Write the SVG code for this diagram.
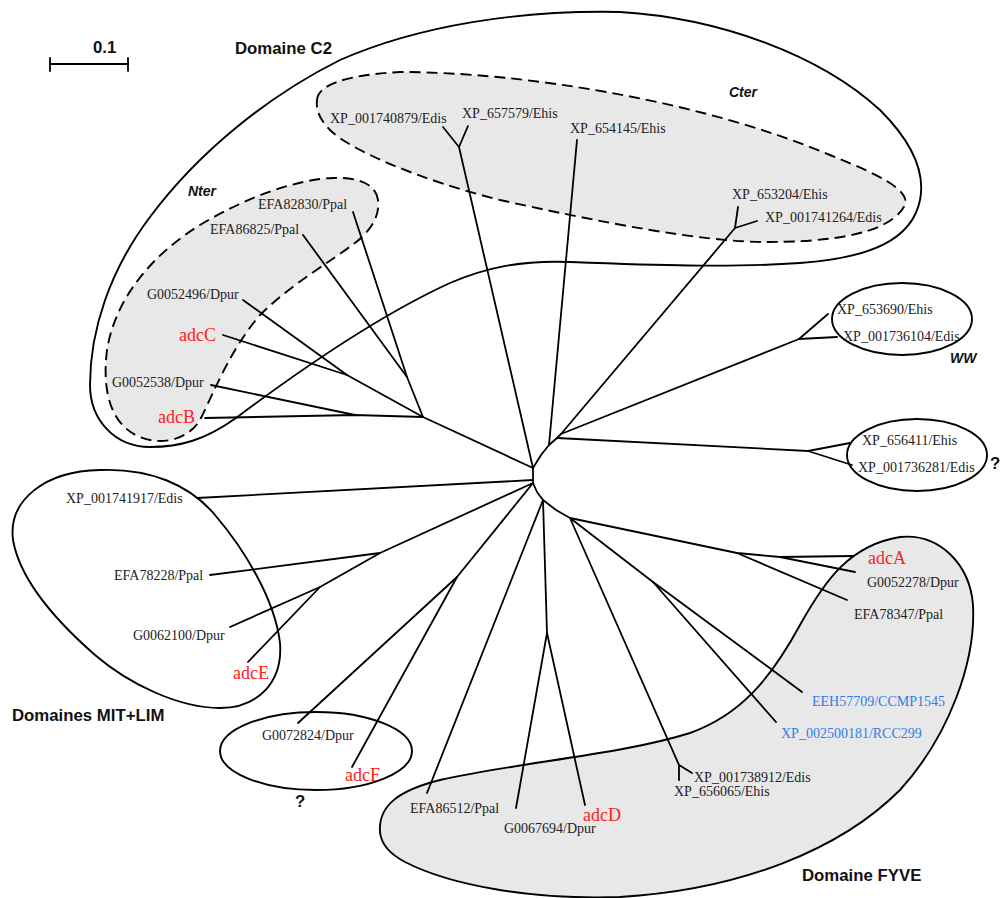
<svg xmlns="http://www.w3.org/2000/svg" width="1002" height="898" viewBox="0 0 1002 898">
<style>
.bg{fill:#fff}
.solid{fill:none;stroke:#000;stroke-width:1.9}
.dash{fill:#e8e8e8;stroke:#000;stroke-width:1.9;stroke-dasharray:11 6}
.gray{fill:#e8e8e8;stroke:#000;stroke-width:1.9}
.br{fill:none;stroke:#000;stroke-width:1.8;stroke-linecap:round;stroke-linejoin:round}
.lb{font-family:"Liberation Serif","Times New Roman",serif;font-size:14px;fill:#222}
.red{font-family:"Liberation Serif","Times New Roman",serif;font-size:18px;fill:#ff2020}
.blue{font-family:"Liberation Serif","Times New Roman",serif;font-size:14px;fill:#2f7de6}
.ttl{font-family:"Liberation Sans",Arial,sans-serif;font-size:16.8px;font-weight:bold;fill:#111}
.sub{font-family:"Liberation Sans",Arial,sans-serif;font-size:14px;font-weight:bold;font-style:italic;fill:#111}
</style>
<rect class="bg" x="0" y="0" width="1002" height="898"/>

<g id="regions">
  <path id="fyve" class="gray" d="M380,832 C378,805 400,790 440,780 C520,762 620,755 690,733 C740,715 770,680 800,625 C825,580 850,545 900,537 C940,533 970,565 973,605 C976,660 950,735 900,790 C840,850 740,890 620,897 C530,900 450,885 405,862 C388,853 381,843 380,832 Z"/>
  <path id="c2" class="solid" d="M150,447 C115,447 90,420 90,385 C90,330 110,270 150,217 C200,150 270,95 340,60 C420,25 520,10 620,12 C720,18 820,55 880,110 C915,145 925,175 920,200 C912,240 870,258 800,263 C730,268 650,265 570,262 C520,260 485,268 450,283 C380,315 300,370 236,418 C205,440 180,447 150,447 Z"/>
  <path id="nter" class="dash" d="M378,200 C376,185 360,177 333,178 C300,179 250,195 200,225 C150,256 115,300 107,350 C102,390 110,425 140,437 C165,447 190,437 200,420 C215,390 230,350 260,315 C290,285 330,262 355,243 C372,230 380,215 378,200 Z"/>
  <path id="cter" class="dash" d="M317,100 C318,85 345,75 400,72 C520,72 700,100 830,155 C880,175 910,190 905,205 C895,225 860,242 767,242 C700,242 600,222 500,200 C420,180 350,150 330,130 C318,118 316,108 317,100 Z"/>
  <ellipse id="ww" class="solid" cx="902" cy="319" rx="70" ry="36"/>
  <ellipse id="q656" class="solid" cx="917" cy="455" rx="70" ry="36"/>
  <path id="mitlim" class="solid" d="M100,470 C150,468 190,485 215,515 C245,550 275,600 280,643 C283,682 258,708 220,708 C180,708 130,685 95,655 C55,620 20,580 13,540 C8,500 45,471 100,470 Z"/>
  <ellipse id="qg" class="solid" cx="316" cy="751" rx="96" ry="39"/>
</g>

<g id="connectors" class="br">
  <polyline points="561,434 557,438 549,445 541,455 533,468 533,476 533,483 537,492 543,500 556,510 570,518"/>
  <polyline points="533,468 423,417"/>
  <polyline points="423,417 407,377 353,212"/>
  <polyline points="407,377 303,235"/>
  <polyline points="423,417 347,375 243,300"/>
  <polyline points="347,375 223,335"/>
  <polyline points="423,417 355,415 205,418"/>
  <polyline points="355,415 211,385"/>
  <polyline points="533,468 459,147 443,127"/>
  <polyline points="459,147 468,126"/>
  <polyline points="549,445 577,140"/>
  <polyline points="561,434 735,228 738,207"/>
  <polyline points="735,228 757,221"/>
  <polyline points="561,434 799,339 828,314"/>
  <polyline points="799,339 837,337"/>
  <polyline points="557,438 808,451 850,443"/>
  <polyline points="808,451 852,465"/>
  <polyline points="533,480 197,498"/>
  <polyline points="533,483 380,553 210,575"/>
  <polyline points="380,553 320,587 230,627"/>
  <polyline points="320,587 248,662"/>
  <polyline points="533,483 457,577 298,723"/>
  <polyline points="457,577 352,767"/>
  <polyline points="543,500 427,793"/>
  <polyline points="543,500 547,633 516,808"/>
  <polyline points="547,633 585,805"/>
  <polyline points="570,518 679,765 679,780"/>
  <polyline points="679,765 692,773"/>
  <polyline points="570,518 653,582 802,692"/>
  <polyline points="653,582 776,722"/>
  <polyline points="570,518 737,553 780,557 855,572"/>
  <polyline points="780,557 853,556"/>
  <polyline points="737,553 847,600"/>
</g>

<g id="scalebar" class="br">
  <line x1="50" y1="64" x2="128" y2="64"/>
  <line x1="50" y1="58" x2="50" y2="71"/>
  <line x1="128" y1="58" x2="128" y2="71"/>
</g>
<text class="ttl" x="93" y="53">0.1</text>

<g id="titles">
  <text class="ttl" x="235" y="54">Domaine C2</text>
  <text class="sub" x="188" y="196">Nter</text>
  <text class="sub" x="729" y="97">Cter</text>
  <text class="sub" x="950" y="363">WW</text>
  <text class="ttl" x="990" y="469">?</text>
  <text class="ttl" x="12" y="721">Domaines MIT+LIM</text>
  <text class="ttl" x="295" y="807">?</text>
  <text class="ttl" x="802" y="881">Domaine FYVE</text>
</g>

<g id="n-XP_001740879"><text class="lb" x="330" y="123">XP_001740879/Edis</text></g>
<g id="n-XP_657579"><text class="lb" x="462" y="118">XP_657579/Ehis</text></g>
<g id="n-XP_654145"><text class="lb" x="570" y="133">XP_654145/Ehis</text></g>
<g id="n-XP_653204"><text class="lb" x="732" y="199">XP_653204/Ehis</text></g>
<g id="n-XP_001741264"><text class="lb" x="765" y="222">XP_001741264/Edis</text></g>
<g id="n-EFA82830"><text class="lb" x="258" y="209">EFA82830/Ppal</text></g>
<g id="n-EFA86825"><text class="lb" x="210" y="234">EFA86825/Ppal</text></g>
<g id="n-G0052496"><text class="lb" x="147" y="299">G0052496/Dpur</text></g>
<g id="n-adcC"><text class="red" x="179" y="341">adcC</text></g>
<g id="n-G0052538"><text class="lb" x="112" y="387">G0052538/Dpur</text></g>
<g id="n-adcB"><text class="red" x="158" y="423">adcB</text></g>
<g id="n-XP_653690"><text class="lb" x="837" y="314">XP_653690/Ehis</text></g>
<g id="n-XP_001736104"><text class="lb" x="843" y="341">XP_001736104/Edis</text></g>
<g id="n-XP_656411"><text class="lb" x="862" y="445">XP_656411/Ehis</text></g>
<g id="n-XP_001736281"><text class="lb" x="858" y="472">XP_001736281/Edis</text></g>
<g id="n-XP_001741917"><text class="lb" x="66" y="503">XP_001741917/Edis</text></g>
<g id="n-EFA78228"><text class="lb" x="114" y="580">EFA78228/Ppal</text></g>
<g id="n-G0062100"><text class="lb" x="133" y="640">G0062100/Dpur</text></g>
<g id="n-adcE"><text class="red" x="233" y="679">adcE</text></g>
<g id="n-G0072824"><text class="lb" x="262" y="740">G0072824/Dpur</text></g>
<g id="n-adcF"><text class="red" x="345" y="781">adcF</text></g>
<g id="n-EFA86512"><text class="lb" x="410" y="813">EFA86512/Ppal</text></g>
<g id="n-G0067694"><text class="lb" x="504" y="833">G0067694/Dpur</text></g>
<g id="n-adcD"><text class="red" x="583" y="821">adcD</text></g>
<g id="n-XP_001738912"><text class="lb" x="694" y="782">XP_001738912/Edis</text></g>
<g id="n-XP_656065"><text class="lb" x="674" y="796">XP_656065/Ehis</text></g>
<g id="n-EEH57709"><text class="blue" x="812" y="706">EEH57709/CCMP1545</text></g>
<g id="n-XP_002500181"><text class="blue" x="781" y="738">XP_002500181/RCC299</text></g>
<g id="n-adcA"><text class="red" x="868" y="564">adcA</text></g>
<g id="n-G0052278"><text class="lb" x="867" y="587">G0052278/Dpur</text></g>
<g id="n-EFA78347"><text class="lb" x="854" y="619">EFA78347/Ppal</text></g>
</svg>
